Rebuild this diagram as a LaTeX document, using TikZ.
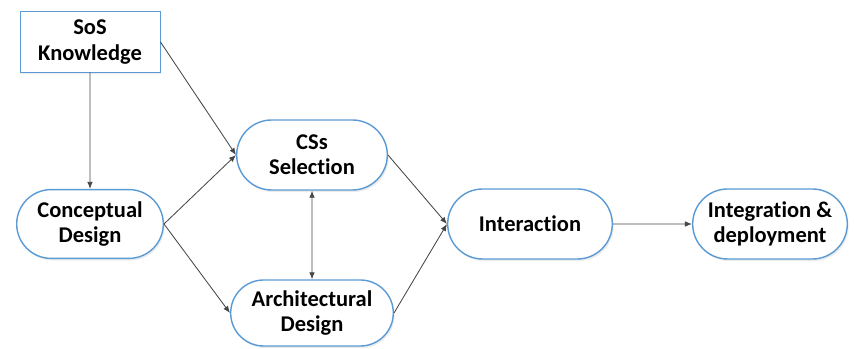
\documentclass[tikz,border=0pt]{standalone}
\usepackage{fontspec}
\setmainfont[Ligatures=NoCommon]{Carlito}
\usepackage{tikz}
\usetikzlibrary{shapes.misc,arrows.meta,shadows}

\definecolor{boxblue}{RGB}{91,155,213}
\definecolor{linegray}{RGB}{70,70,70}
\tikzset{
  stage/.style={draw=boxblue,line width=1pt,fill=white,rounded rectangle,align=center,
    font=\fontsize{16}{18}\selectfont\bfseries,
    drop shadow={opacity=0.15,shadow xshift=1pt,shadow yshift=-1.5pt}},
  flow/.style={draw=linegray,line width=0.6pt,-{Latex[length=5pt,width=4pt]}}
}

\begin{document}
\begin{tikzpicture}
			\useasboundingbox (0,0) rectangle (21.35,8.725);
			\node[stage,rectangle,line width=0.7pt,minimum width=3.5cm,minimum height=1.5cm](sos)at(2.25,7.675) {SoS\\Knowledge};
			\node[stage,minimum width=3.9cm,minimum height=1.72cm](cd)at(2.25,3.125) {Conceptual\\Design};
			\node[stage,minimum width=4.0cm,minimum height=1.75cm](cs)at(7.8,4.85) {CSs\\Selection};
			\node[stage,minimum width=4.3cm,minimum height=1.65cm](ad)at(7.8,0.9) {Architectural\\Design};
			\node[stage,minimum width=4.35cm,minimum height=1.75cm](in)at(13.25,3.125) {Interaction};
			\node[stage,minimum width=4.1cm,minimum height=1.75cm](id)at(19.25,3.125) {Integration \&\\deployment};
			
			\draw[flow](sos) -- (cd);
			\draw[flow](sos.east) -- (cs.west);
			\draw[flow](cd.east) -- (cs.west);
			\draw[flow](cd.east) -- (ad.west);
			\draw[flow,{Latex[length=5pt,width=4pt]}-{Latex[length=5pt,width=4pt]}](cs) -- (ad);
			\draw[flow](cs.east) -- (in.west);
			\draw[flow](ad.east) -- (in.west);
			\draw[flow](in) -- (id);
		\end{tikzpicture}
\end{document}
